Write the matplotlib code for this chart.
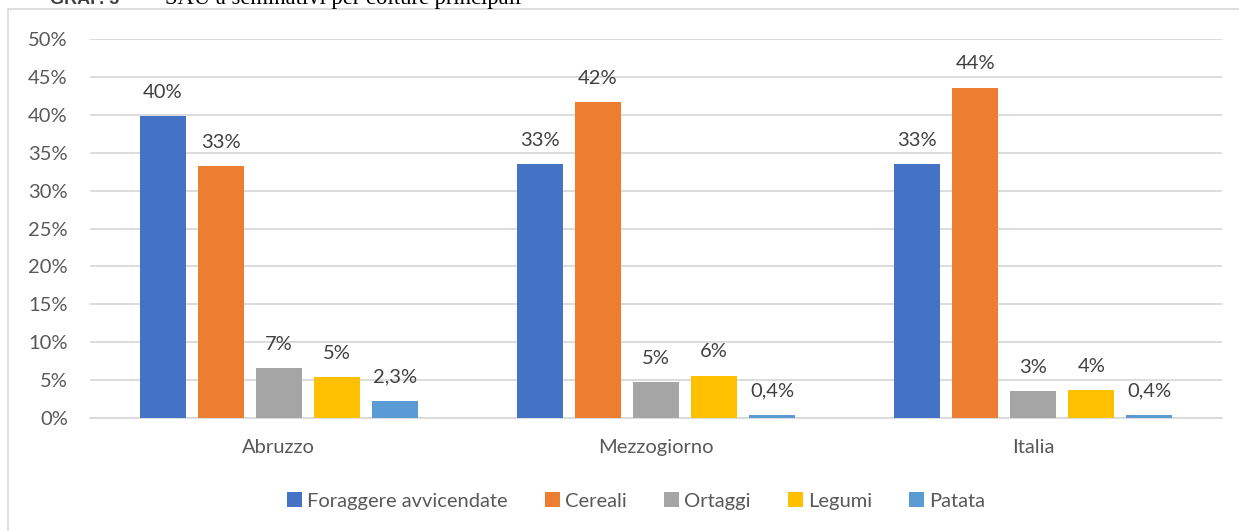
import matplotlib
matplotlib.use("Agg")
import matplotlib.pyplot as plt
import numpy as np
from matplotlib.patches import Rectangle

categories = ["Abruzzo", "Mezzogiorno", "Italia"]
series = ["Foraggere avvicendate", "Cereali", "Ortaggi", "Legumi", "Patata"]
colors = ["#4472C4", "#ED7D31", "#A5A5A5", "#FFC000", "#5B9BD5"]
values = {
    "Foraggere avvicendate": [39.8, 33.5, 33.5],
    "Cereali": [33.2, 41.7, 43.6],
    "Ortaggi": [6.6, 4.7, 3.5],
    "Legumi": [5.4, 5.6, 3.7],
    "Patata": [2.3, 0.4, 0.4],
}
labels = {
    "Foraggere avvicendate": ["40%", "33%", "33%"],
    "Cereali": ["33%", "42%", "44%"],
    "Ortaggi": ["7%", "5%", "3%"],
    "Legumi": ["5%", "6%", "4%"],
    "Patata": ["2,3%", "0,4%", "0,4%"],
}
yticks = [0, 5, 10, 15, 20, 25, 30, 35, 40, 45, 50]

W, H = 1239, 531
fig = plt.figure(figsize=(W / 100, H / 100), dpi=100)
font = "Lato"
plt.rcParams["font.family"] = [font, "DejaVu Sans"]
FS = 14.5

# outer chart border
fig.patches.append(Rectangle((8 / W, -0.01), 1.2, 1 - 9 / H + 0.01, transform=fig.transFigure,
                             fill=False, edgecolor="#D9D9D9", linewidth=1.2))

# cut-off title (as in the reference, only its lower part is visible)
fig.text(50 / W, 1 - 4 / H, "GRAF. 5", fontsize=13, fontweight="bold", color="#404040",
         family="Liberation Sans", va="baseline")
fig.text(165 / W, 1 - 4 / H, "SAU a seminativi per colture principali", fontsize=16.3,
         family="Liberation Serif", color="black", va="baseline")

ax = fig.add_axes([90 / W, 1 - 418 / H, (1222 - 90) / W, (418 - 39) / H])
x = np.arange(len(categories))
step = 58 / 377
width = 46 / 377
for i, s in enumerate(series):
    pos = x + (i - 2) * step
    bars = ax.bar(pos, values[s], width=width, color=colors[i], label=s, zorder=3)
    for b, lab in zip(bars, labels[s]):
        ax.annotate(lab, (b.get_x() + b.get_width() / 2, b.get_height()),
                    xytext=(0, 11), textcoords="offset points", ha="center", va="bottom",
                    fontsize=FS, color="#404040")

ax.set_xlim(-0.5, 2.5)
ax.set_ylim(0, 50)
ax.set_yticks(yticks)
ax.set_yticklabels([f"{t}%" for t in yticks])
ax.set_xticks(x)
ax.set_xticklabels(categories)
ax.grid(axis="y", color="#D9D9D9", linewidth=1.3, zorder=0)
for sp in ["top", "right", "left"]:
    ax.spines[sp].set_visible(False)
ax.spines["bottom"].set_color("#D9D9D9")
ax.spines["bottom"].set_linewidth(1.3)
ax.tick_params(axis="both", length=0, labelsize=FS, colors="#595959")
ax.tick_params(axis="y", pad=16)
ax.tick_params(axis="x", pad=15)

leg = fig.legend(loc="center", bbox_to_anchor=(636 / W, 1 - 501 / H), ncol=5, frameon=False,
                 fontsize=FS, handlelength=0.75, handleheight=0.75, handletextpad=0.25,
                 columnspacing=1.85)
for t in leg.get_texts():
    t.set_color("#595959")

fig.savefig("out.png", dpi=100)
